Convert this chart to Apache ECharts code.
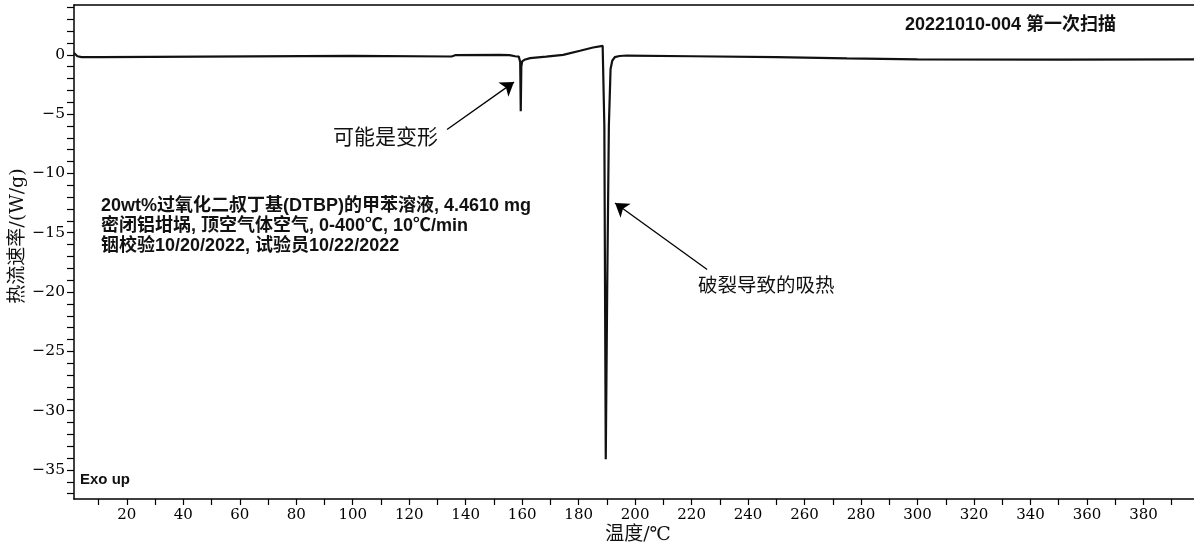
<!DOCTYPE html>
<html>
<head>
<meta charset="utf-8">
<script src="https://cdn.jsdelivr.net/npm/echarts@6/dist/echarts.min.js"></script>
<style>
html,body{margin:0;padding:0;background:#fff;}
#c{width:1194px;height:551px;}
</style>
</head>
<body>
<div id="c"></div>
<script>
const temperature = [1.3, 2.5, 4, 10.8, 11.2, 100, 100.5, 135, 136.5, 152, 155.5, 157.5, 158.8, 159.3, 159.5, 159.7, 160.0, 160.8, 162.8, 168.5, 174.5, 180.5, 185.1, 188.5, 188.7, 189.1, 189.6, 190.1, 190.7, 191.3, 191.9, 192.8, 194.5, 197, 220, 250, 275, 300, 350, 398];
const heatFlow = [0.15, -0.12, -0.2, -0.2, -0.09, -0.09, -0.14, -0.14, -0.02, 0.0, -0.02, -0.12, -0.15, -0.6, -4.75, -1.0, -0.55, -0.42, -0.28, -0.15, 0.0, 0.34, 0.62, 0.76, 0.6, -6, -34.1, -20, -6, -1.2, -0.5, -0.2, -0.1, -0.06, -0.12, -0.2, -0.3, -0.38, -0.4, -0.38];
const xLabelValues = [20, 40, 60, 80, 100, 120, 140, 160, 180, 200, 220, 240, 260, 280, 300, 320, 340, 360, 380];
const xTickValues = [10, 20, 30, 40, 50, 60, 70, 80, 90, 100, 110, 120, 130, 140, 150, 160, 170, 180, 190, 200, 210, 220, 230, 240, 250, 260, 270, 280, 290, 300, 310, 320, 330, 340, 350, 360, 370, 380, 390];
const yLabelValues = [-35, -30, -25, -20, -15, -10, -5, 0];
const yTickValues = [-37, -36, -35, -34, -33, -32, -31, -30, -29, -28, -27, -26, -25, -24, -23, -22, -21, -20, -19, -18, -17, -16, -15, -14, -13, -12, -11, -10, -9, -8, -7, -6, -5, -4, -3, -2, -1, 0, 1, 2, 3, 4];
const arrowDeform = [[133.4, -6.3], [157.1, -2.3]];
const arrowRupture = [[225.5, -18.1], [192.9, -12.5]];

const serif = '"DejaVu Serif", "Noto Sans CJK SC", serif';
const sansBold = '"Liberation Sans", "Noto Sans CJK SC", sans-serif';
const cjk = '"Noto Sans CJK SC", sans-serif';

const chart = echarts.init(document.getElementById('c'));
chart.setOption({
  backgroundColor: '#fff',
  animation: false,
  grid: { left: 74, top: 5, right: 0, bottom: 52, show: false },
  xAxis: [{
    type: 'value', min: 1.3, max: 397.9,
    axisLine: { show: true, onZero: false, lineStyle: { color: '#000', width: 1.5 } },
    axisTick: { show: true, customValues: xTickValues, length: 6, lineStyle: { color: '#000', width: 1.2 } },
    axisLabel: { customValues: xLabelValues, fontFamily: serif, fontSize: 15, color: '#000', margin: 9 },
    splitLine: { show: false }
  }, {
    type: 'value', min: 1.3, max: 397.9, position: 'top',
    axisLine: { show: true, onZero: false, lineStyle: { color: '#000', width: 1.5 } },
    axisTick: { show: false }, axisLabel: { show: false }, splitLine: { show: false }
  }],
  yAxis: {
    type: 'value', min: -37.45, max: 4.2,
    axisLine: { show: true, onZero: false, lineStyle: { color: '#000', width: 1.5 } },
    axisTick: { show: true, customValues: yTickValues, length: 7, lineStyle: { color: '#000', width: 1.2 } },
    axisLabel: { customValues: yLabelValues, fontFamily: serif, fontSize: 15.5, color: '#000', margin: 9,
      formatter: v => String(v).replace('-', '\u2212') },
    splitLine: { show: false }
  },
  series: [{
    type: 'line',
    xAxisIndex: 0,
    data: temperature.map((t, i) => [t, heatFlow[i]]),
    showSymbol: false,
    lineStyle: { color: '#111', width: 2.2 },
    silent: true,
    markLine: {
      silent: true,
      symbol: ['none', 'arrow'],
      symbolSize: 13,
      label: { show: false },
      lineStyle: { color: '#000', width: 1.3, type: 'solid' },
      data: [
        [{ coord: arrowDeform[0] }, { coord: arrowDeform[1] }],
        [{ coord: arrowRupture[0] }, { coord: arrowRupture[1] }]
      ]
    }
  }],
  graphic: [
    { type: 'text', left: 905, top: 16, style: { text: '20221010-004 第一次扫描', font: 'bold 18px ' + sansBold, fill: '#111' } },
    { type: 'text', left: 101, top: 196, style: { text: '20wt%过氧化二叔丁基(DTBP)的甲苯溶液, 4.4610 mg\n密闭铝坩埚, 顶空气体空气, 0-400℃, 10℃/min\n铟校验10/20/2022, 试验员10/22/2022', font: 'bold 18px ' + sansBold, fill: '#111', lineHeight: 20 } },
    { type: 'text', left: 333, top: 126, style: { text: '可能是变形', font: '21px ' + cjk, fill: '#111' } },
    { type: 'text', left: 698, top: 275, style: { text: '破裂导致的吸热', font: '19.5px ' + cjk, fill: '#111' } },
    { type: 'text', left: 80, top: 472, style: { text: 'Exo up', font: 'bold 15px ' + sansBold, fill: '#111' } },
    { type: 'text', x: 638, y: 535, style: { text: '温度/℃', font: '19px ' + serif, fill: '#111', align: 'center', verticalAlign: 'middle' } },
    { type: 'text', x: 18, y: 236, rotation: Math.PI / 2, style: { text: '热流速率/(W/g)', font: '19px ' + serif, fill: '#111', align: 'center', verticalAlign: 'middle' } }
  ]
});
</script>
</body>
</html>
